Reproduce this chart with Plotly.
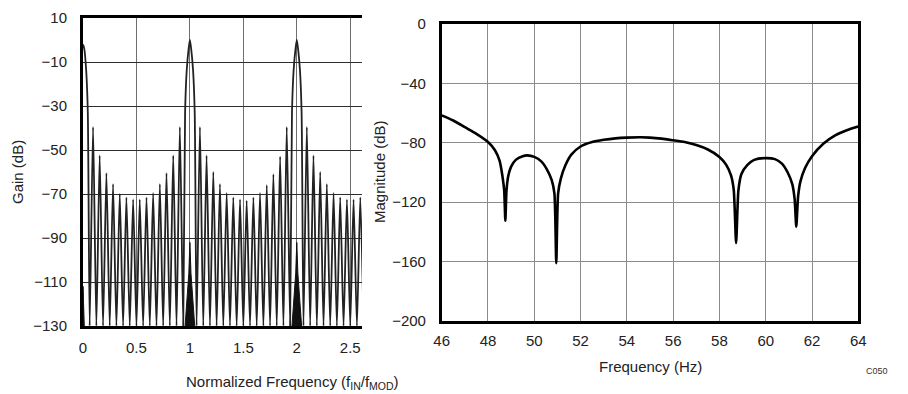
import plotly.graph_objects as go

# ---------------- Left chart: gain vs normalized frequency ----------------
null_freq = [0.0625, 0.125, 0.1875, 0.25, 0.3125, 0.375, 0.4375, 0.5, 0.5625, 0.625,
             0.6875, 0.75, 0.8125, 0.875, 0.9375,
             1.0625, 1.125, 1.1875, 1.25, 1.3125, 1.375, 1.4375, 1.5, 1.5625, 1.625,
             1.6875, 1.75, 1.8125, 1.875, 1.9375,
             2.0625, 2.125, 2.1875, 2.25, 2.3125, 2.375, 2.4375, 2.5, 2.5625, 2.625]
null_gain = [-130] * len(null_freq)

lobe_freq = [0.094, 0.156, 0.219, 0.281, 0.344, 0.406, 0.469, 0.531, 0.594, 0.656,
             0.719, 0.781, 0.844, 0.906,
             1.094, 1.156, 1.219, 1.281, 1.344, 1.406, 1.469, 1.531, 1.594, 1.656,
             1.719, 1.781, 1.844, 1.906,
             2.094, 2.156, 2.219, 2.281, 2.344, 2.406, 2.469, 2.531, 2.594]
lobe_gain = [-39.5, -52.5, -60.5, -65.5, -70, -71.5, -72.5, -72.5, -71.5, -69.5,
             -65.5, -60.5, -52.5, -39.5,
             -39.5, -52.5, -60, -65.5, -69.5, -71.5, -72.5, -73, -71.5, -69.5,
             -66, -61, -53, -39.5,
             -39.5, -52.5, -60, -65.5, -69.5, -71.5, -72.5, -72.5, -71.5]

main_freq = [0.0, 0.012, 0.03, 0.045,
             0.955, 0.97, 0.988, 1.0, 1.012, 1.03, 1.045,
             1.955, 1.97, 1.988, 2.0, 2.012, 2.03, 2.045]
main_gain = [-2, -4, -14, -33,
             -33, -14, -4, 0, -4, -14, -33,
             -33, -14, -4, 0, -4, -14, -33]

wedge0_freq = [0.0, 0.0, 0.012]
wedge0_gain = [-130, -112, -130]
wedge1_freq = [0.955, 0.99, 1.0, 1.01, 1.045]
wedge2_freq = [1.955, 1.99, 2.0, 2.01, 2.045]
wedge_gain = [-130, -106, -92, -106, -130]

gain_ticks = [10, -10, -30, -50, -70, -90, -110, -130]
norm_ticks = [0, 0.5, 1, 1.5, 2, 2.5]

# ---------------- Right chart: magnitude vs frequency ----------------
freq_hz = [46.0, 46.5, 47.0, 47.5, 48.0, 48.3, 48.5, 48.62, 48.7, 48.75, 48.8, 48.88,
           49.0, 49.2, 49.5, 49.7, 50.0, 50.3, 50.55, 50.75, 50.87, 50.95, 51.03,
           51.15, 51.35, 51.6, 52.0, 52.5, 53.0, 53.5, 54.0, 54.6, 55.0, 55.5, 56.0,
           56.5, 57.0, 57.5, 58.0, 58.3, 58.5, 58.62, 58.72, 58.82, 58.95, 59.2, 59.5,
           60.0, 60.4, 60.7, 60.95, 61.15, 61.25, 61.32, 61.4, 61.5, 61.7, 62.0, 62.5,
           63.0, 63.5, 64.0]
mag_db = [-61.5, -65, -69.5, -74, -79.5, -85, -92, -102, -112, -132.5, -112, -102,
          -96, -91.5, -89, -88.5, -89.5, -92.5, -98, -105, -114, -161, -114,
          -104, -95, -88, -82.5, -79.5, -78, -77, -76.5, -76.3, -76.5, -77.2, -78.3,
          -79.5, -81.5, -84.5, -89.5, -95, -102, -112, -147.5, -112, -101, -95, -91.5,
          -90.3, -91, -94, -100, -108, -118, -136.5, -116, -106, -97, -89, -80.5,
          -75, -71.5, -69]
mag_ticks = [0, -40, -80, -120, -160, -200]
hz_ticks = [46, 48, 50, 52, 54, 56, 58, 60, 62, 64]

# combine left-chart points in frequency order
pts = sorted(zip(null_freq + lobe_freq + main_freq,
                 null_gain + lobe_gain + main_gain))
left_x = [p[0] for p in pts]
left_y = [p[1] for p in pts]

# the page body adds an 8 px margin, so the figure is 8 px smaller and offset
W, H, OFF = 900, 386, 8


def px(x):
    return (x - OFF) / W


def py(y):
    return 1 - (y - OFF) / H


fig = go.Figure()
fig.add_trace(go.Scatter(x=left_x, y=left_y, mode="lines",
                         line=dict(color="#222", width=1.8, shape="spline", smoothing=0.6),
                         xaxis="x", yaxis="y", showlegend=False))
for wf, wg in ((wedge0_freq, wedge0_gain), (wedge1_freq, wedge_gain), (wedge2_freq, wedge_gain)):
    fig.add_trace(go.Scatter(x=wf, y=wg, mode="lines", fill="toself",
                             fillcolor="#111", line=dict(color="#111", width=1),
                             xaxis="x", yaxis="y", showlegend=False))
fig.add_trace(go.Scatter(x=freq_hz, y=mag_db, mode="lines",
                         line=dict(color="#000", width=2.6, shape="spline", smoothing=0.6),
                         xaxis="x2", yaxis="y2", showlegend=False))

font = dict(family="Liberation Sans, Arial, sans-serif", size=15, color="#222")


def note(text, x, y, **kw):
    d = dict(text=text, x=px(x), y=py(y), xref="paper", yref="paper",
             xanchor="center", yanchor="middle", showarrow=False, font=font)
    d.update(kw)
    return d


fig.update_layout(
    width=W, height=H,
    margin=dict(l=0, r=0, t=0, b=0, autoexpand=False),
    paper_bgcolor="white", plot_bgcolor="white",
    font=font,
    xaxis=dict(domain=[px(83), px(362)], range=[0, 2.61], tickvals=norm_ticks,
               ticktext=["0", "0.5", "1", "1.5", "2", "2.5"],
               showgrid=True, gridcolor="#6e6e6e", gridwidth=1,
               showline=True, linecolor="#000", linewidth=3, mirror=True,
               ticks="outside", ticklen=6, tickcolor="rgba(0,0,0,0)",
               zeroline=False, anchor="y", automargin=False),
    yaxis=dict(domain=[py(326), py(18)], range=[-130, 10], tickvals=gain_ticks,
               showgrid=True, gridcolor="#2e2e2e", gridwidth=1.3,
               showline=True, linecolor="#000", linewidth=3,
               ticks="outside", ticklen=10, tickcolor="rgba(0,0,0,0)",
               zeroline=False, anchor="x", automargin=False),
    xaxis2=dict(domain=[px(441.7), px(858.3)], range=[46, 64], tickvals=hz_ticks,
                showgrid=True, gridcolor="#8c8c8c", gridwidth=1,
                showline=True, linecolor="#000", linewidth=2.5, mirror=True,
                ticks="outside", ticklen=4, tickcolor="rgba(0,0,0,0)",
                zeroline=False, anchor="y2", automargin=False),
    yaxis2=dict(domain=[py(321), py(24)], range=[-200, 0], tickvals=mag_ticks,
                showgrid=True, gridcolor="#8c8c8c", gridwidth=1,
                showline=True, linecolor="#000", linewidth=2.5, mirror=True,
                ticks="outside", ticklen=10, tickcolor="rgba(0,0,0,0)",
                zeroline=False, anchor="x2", automargin=False),
    annotations=[
        note("Gain (dB)", 18, 172, textangle=-90),
        note("Normalized Frequency (f<sub>IN</sub>/f<sub>MOD</sub>)", 184, 382, xanchor="left"),
        note("Magnitude (dB)", 380, 172, textangle=-90),
        note("Frequency (Hz)", 650, 366),
        note("C050", 877, 371, font=dict(family=font["family"], size=9, color="#333")),
    ],
)

fig.write_html("out.html")
